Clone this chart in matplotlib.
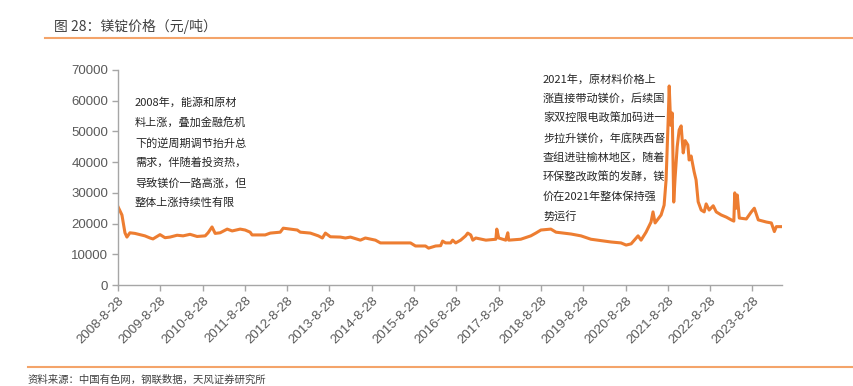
import matplotlib
matplotlib.use("Agg")
import matplotlib.pyplot as plt
import pandas as pd
from matplotlib.lines import Line2D

plt.rcParams['font.family'] = ['Liberation Sans', 'Noto Sans CJK SC', 'DejaVu Sans']

dates = ['2008-08-28', '2008-10-01', '2008-10-27', '2008-11-13', '2008-12-09', '2009-01-21',
         '2009-03-05', '2009-04-17', '2009-06-01', '2009-06-26', '2009-08-26', '2009-10-08',
         '2009-11-20', '2010-01-20', '2010-03-13', '2010-05-12', '2010-07-12', '2010-09-20',
         '2010-10-15', '2010-11-18', '2010-12-15', '2011-01-27', '2011-03-29', '2011-05-11',
         '2011-07-19', '2011-08-31', '2011-10-13', '2011-10-30', '2012-02-20', '2012-04-04',
         '2012-06-29', '2012-07-25', '2012-09-24', '2012-11-23', '2012-12-19', '2013-03-16',
         '2013-05-24', '2013-06-28', '2013-07-24', '2013-09-05', '2013-11-30', '2014-01-13',
         '2014-02-25', '2014-05-22', '2014-07-04', '2014-09-29', '2014-11-11', '2015-07-29',
         '2015-09-10', '2015-12-05', '2016-01-01', '2016-03-02', '2016-04-14', '2016-05-01',
         '2016-05-27', '2016-07-09', '2016-07-27', '2016-08-22', '2016-10-04', '2016-11-16',
         '2016-12-04', '2016-12-30', '2017-01-17', '2017-02-12', '2017-05-10', '2017-08-04',
         '2017-08-12', '2017-08-29', '2017-10-28', '2017-11-15', '2017-11-23', '2018-03-07',
         '2018-06-02', '2018-07-15', '2018-08-28', '2018-11-22', '2019-01-05', '2019-05-15',
         '2019-08-09', '2019-11-03', '2020-04-25', '2020-07-20', '2020-09-02', '2020-10-15',
         '2020-11-27', '2020-12-14', '2021-01-09', '2021-02-21', '2021-04-05', '2021-04-22',
         '2021-05-10', '2021-07-01', '2021-07-27', '2021-08-13', '2021-08-31', '2021-09-09',
         '2021-09-22', '2021-10-05', '2021-10-18', '2021-10-30', '2021-11-17', '2021-12-04',
         '2021-12-21', '2022-01-08', '2022-01-25', '2022-02-17', '2022-02-28', '2022-03-17',
         '2022-04-12', '2022-04-29', '2022-05-17', '2022-06-12', '2022-07-08', '2022-07-25',
         '2022-08-20', '2022-09-24', '2022-10-20', '2022-12-02', '2023-01-15', '2023-02-27',
         '2023-03-21', '2023-03-29', '2023-04-11', '2023-04-20', '2023-05-07', '2023-07-07',
         '2023-08-19', '2023-09-14', '2023-10-18', '2023-12-27', '2024-02-08', '2024-03-05',
         '2024-03-22', '2024-05-05']

prices = [25500, 22800, 17000, 15600, 17000, 16800,
          16400, 16000, 15300, 15000, 16400, 15400,
          15600, 16200, 16000, 16500, 15800, 16000,
          17000, 18900, 16800, 17000, 18200, 17600,
          18200, 17900, 17200, 16300, 16300, 16900,
          17200, 18500, 18200, 17900, 17200, 16900,
          16000, 15300, 16900, 15700, 15600, 15300,
          15600, 14600, 15300, 14600, 13700, 13700,
          12700, 12700, 12000, 12700, 12800, 14300,
          13700, 13700, 14600, 13700, 14600, 16000,
          16900, 16300, 14600, 15300, 14600, 14900,
          18200, 15300, 14600, 17000, 14600, 14900,
          16000, 16900, 17900, 18200, 17200, 16600,
          16000, 14900, 14000, 13700, 13000, 13400,
          15300, 16000, 14600, 17200, 20500, 23800,
          20200, 22800, 26000, 34200, 53700, 64800,
          52000, 56000, 27000, 35000, 45000, 50500,
          51800, 43000, 47000, 45600, 40700, 42000,
          36900, 34200, 27100, 24400, 23800, 26400,
          24400, 25800, 23800, 22800, 22100, 21200,
          20800, 30000, 25000, 29300, 21800, 21500,
          23800, 25000, 21200, 20500, 20200, 17400,
          19000, 19000]

tick_dates = ['2008-08-28', '2009-08-28', '2010-08-28', '2011-08-28', '2012-08-28', '2013-08-28',
              '2014-08-28', '2015-08-28', '2016-08-28', '2017-08-28', '2018-08-28', '2019-08-28',
              '2020-08-28', '2021-08-28', '2022-08-28', '2023-08-28']
tick_labels = ['2008-8-28', '2009-8-28', '2010-8-28', '2011-8-28', '2012-8-28', '2013-8-28',
               '2014-8-28', '2015-8-28', '2016-8-28', '2017-8-28', '2018-8-28', '2019-8-28',
               '2020-8-28', '2021-8-28', '2022-8-28', '2023-8-28']
y_ticks = [0, 10000, 20000, 30000, 40000, 50000, 60000, 70000]

title = '图 28：镁锭价格（元/吨）'
source = '资料来源：中国有色网，钢联数据，天风证券研究所'
note1 = '2008年，能源和原材\n料上涨，叠加金融危机\n下的逆周期调节抬升总\n需求，伴随着投资热，\n导致镁价一路高涨，但\n整体上涨持续性有限'
note2 = '2021年，原材料价格上\n涨直接带动镁价，后续国\n家双控限电政策加码进一\n步拉升镁价，年底陕西督\n查组进驻榆林地区，随着\n环保整改政策的发酵，镁\n价在2021年整体保持强\n势运行'

W, H = 854, 386
fig = plt.figure(figsize=(W / 100, H / 100), dpi=100)
ax = fig.add_axes([118 / W, 1 - 285 / H, (782 - 118) / W, (285 - 70) / H])

x = pd.to_datetime(dates)
ax.plot(x, prices, color='#ED7D31', linewidth=2.2, solid_joinstyle='round')

ax.set_xlim(pd.Timestamp('2008-08-28'), pd.Timestamp('2024-05-10'))
ax.set_ylim(0, 70000)
ax.set_yticks(y_ticks)
ax.set_yticklabels([str(v) for v in y_ticks])
ax.set_xticks(pd.to_datetime(tick_dates))
ax.set_xticklabels(tick_labels, rotation=45, ha='right', rotation_mode='anchor')

grey = '#A6A6A6'
for s in ['top', 'right']:
    ax.spines[s].set_visible(False)
for s in ['left', 'bottom']:
    ax.spines[s].set_color(grey)
    ax.spines[s].set_linewidth(1.0)
ax.tick_params(axis='both', colors=grey, labelcolor='#595959', labelsize=9.5, length=4, width=1)
ax.tick_params(axis='y', pad=3)
ax.tick_params(axis='x', pad=3)

cjk = ['Noto Sans CJK SC', 'DejaVu Sans']
fig.text(135 / W, 1 - 97 / H, note1, family=cjk, fontsize=8, color='#262626',
         va='top', ha='left', linespacing=2.05)
fig.text(543 / W, 1 - 74 / H, note2, family=cjk, fontsize=8, color='#262626',
         va='top', ha='left', linespacing=1.98)

fig.text(54 / W, 1 - 26 / H, title, family=cjk, fontsize=10, color='#404040',
         va='center', ha='left')
fig.text(28 / W, 1 - 380 / H, source, family=cjk, fontsize=7.5, color='#404040',
         va='center', ha='left')

fig.add_artist(Line2D([45 / W, 1.0], [1 - 37.5 / H, 1 - 37.5 / H], color='#F4A46A', linewidth=1.5))
fig.add_artist(Line2D([28 / W, 1.0], [1 - 366.5 / H, 1 - 366.5 / H], color='#F4A46A', linewidth=1.5))

fig.savefig('out.png', dpi=100, facecolor='white')
